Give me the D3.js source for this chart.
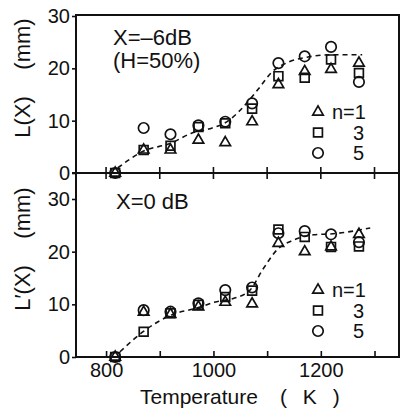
<!DOCTYPE html>
<html>
<head>
<meta charset="utf-8">
<script src="https://cdn.jsdelivr.net/npm/d3@7"></script>
<style>
  body { margin: 0; background: #fff; }
  text { font-family: "Liberation Sans", Arial, sans-serif; fill: #111; }
</style>
</head>
<body>
<figure style="margin:0"></figure>
<script>
// temperatures (K) of the measured points
const temps = [817, 870, 920, 972, 1022, 1072, 1121, 1170, 1219, 1271];

// upper panel, X = -6 dB
const topN1 = [0, 4.4, 4.4, 6.3, 5.8, 9.8, 16.9, 19.4, 19.8, 21.0];
const topN3 = [0, 4.4, 5.2, 8.8, 9.5, 12.3, 18.5, 18.2, 21.7, 19.1];
const topN5 = [0, 8.6, 7.4, 9.1, 9.8, 13.3, 21.0, 22.3, 24.1, 17.4];
const topCurveT = [822, 870, 921, 959, 991, 1028, 1047, 1084, 1109, 1140, 1178, 1221, 1277];
const topCurveV = [1, 4.2, 5.7, 7.6, 8.4, 10, 11.7, 16.1, 19.3, 21.2, 22.2, 22.6, 22.6];

// lower panel, X = 0 dB
const botN1 = [0, 8.5, 8.1, 9.5, 10.4, 10.1, 21.6, 20.0, 20.9, 23.3];
const botN3 = [0, 4.8, 8.3, 9.9, 11.4, 12.6, 24.2, 22.8, 20.9, 21.0];
const botN5 = [0, 8.9, 8.6, 10.2, 12.7, 13.2, 23.5, 23.9, 23.3, 21.8];
const botCurveT = [826, 869, 922, 969, 1006, 1037, 1068, 1093, 1118, 1149, 1186, 1223, 1292];
const botCurveV = [1, 4.8, 8.0, 9.3, 10.5, 11.1, 12.7, 16.8, 20.3, 22.2, 23.2, 23.4, 24.5];

const xTicks = [800, 900, 1000, 1100, 1200, 1300];
const xLabels = [800, 1000, 1200];
const yTicks = [0, 10, 20, 30];
const legendLabels = ["n=1", "3", "5"];

const width = 405, height = 412;
const frameL = 76, frameR = 399, frameT = 15, frameB = 357, frameM = 173;

const svg = d3.select("figure").append("svg")
    .attr("width", width)
    .attr("height", height);

const x = d3.scaleLinear().domain([744, 1345.6]).range([frameL, frameR]);
const yTop = d3.scaleLinear().domain([0, 30]).range([frameM, 16]);
const yBot = d3.scaleLinear().domain([0, 30]).range([frameB, 199]);

const symbols = [
  d3.symbol().type(d3.symbolTriangle).size(48)(),
  d3.symbol().type(d3.symbolSquare).size(78)(),
  d3.symbol().type(d3.symbolCircle).size(86)()
];

// frame
svg.append("rect")
    .attr("x", frameL).attr("y", frameT)
    .attr("width", frameR - frameL).attr("height", frameB - frameT)
    .attr("fill", "none").attr("stroke", "#111").attr("stroke-width", 2);

// shared middle axis: line from the "0" label, ticks crossing both ways
svg.append("line")
    .attr("x1", frameL - 4).attr("x2", frameR)
    .attr("y1", frameM).attr("y2", frameM)
    .attr("stroke", "#111").attr("stroke-width", 2);
svg.append("g").selectAll("line")
  .data(xTicks)
  .join("line")
    .attr("x1", d => x(d)).attr("x2", d => x(d))
    .attr("y1", frameM - 6).attr("y2", frameM + 6)
    .attr("stroke", "#111").attr("stroke-width", 1.6);

// bottom axis, ticks pointing in
const xAxis = d3.axisBottom(x)
    .tickValues(xTicks)
    .tickSize(-6)
    .tickPadding(6)
    .tickFormat(d => xLabels.includes(d) ? d : "");
svg.append("g")
    .attr("transform", `translate(0,${frameB})`)
    .call(xAxis)
    .call(g => g.select(".domain").remove())
    .call(g => g.selectAll("line").attr("stroke", "#111").attr("stroke-width", 1.6))
    .call(g => g.selectAll("text").attr("font-size", 20).attr("fill", "#111")
        .attr("font-family", "Liberation Sans, Arial, sans-serif"));

// y axes
for (const y of [yTop, yBot]) {
  svg.append("g")
      .attr("transform", `translate(${frameL},0)`)
      .call(d3.axisLeft(y).tickValues(yTicks).tickSize(4).tickPadding(2))
      .call(g => g.select(".domain").remove())
      .call(g => g.selectAll("line").attr("stroke", "#111").attr("stroke-width", 1.6))
      .call(g => g.selectAll("text").attr("font-size", 20).attr("fill", "#111")
          .attr("font-family", "Liberation Sans, Arial, sans-serif"));
}

// y labels
const yLabel = (txt, cy) => svg.append("text")
    .attr("transform", `translate(30,${cy}) rotate(-90)`)
    .attr("text-anchor", "middle")
    .attr("font-size", 22)
    .text(txt);
yLabel("(mm)", 44);
yLabel("L(X)", 117);
yLabel("(mm)", 213);
yLabel("L\u2032(X)", 288);

// x label
svg.append("text").attr("x", 140).attr("y", 404).attr("font-size", 21).text("Temperature");
svg.append("text").attr("x", 280).attr("y", 404).attr("font-size", 21)
    .attr("letter-spacing", 5).text("( K )");

// annotations
svg.append("text").attr("x", 113).attr("y", 45).attr("font-size", 22).text("X=\u20136dB");
svg.append("text").attr("x", 113).attr("y", 68).attr("font-size", 22).text("(H=50%)");
svg.append("text").attr("x", 116).attr("y", 209).attr("font-size", 22).text("X=0 dB");

// dashed guide curves
const curve = (ts, vs, y) => svg.append("path")
    .datum(d3.zip(ts, vs))
    .attr("d", d3.line().x(d => x(d[0])).y(d => y(d[1])).curve(d3.curveMonotoneX))
    .attr("fill", "none").attr("stroke", "#111")
    .attr("stroke-width", 1.6).attr("stroke-dasharray", "5,4");
curve(topCurveT, topCurveV, yTop);
curve(botCurveT, botCurveV, yBot);

// markers
const drawSeries = (vals, k, y) => svg.append("g").selectAll("path")
  .data(d3.zip(temps, vals))
  .join("path")
    .attr("d", symbols[k])
    .attr("transform", d => `translate(${x(d[0])},${y(d[1])})`)
    .attr("fill", "none").attr("stroke", "#111").attr("stroke-width", 1.7);
[topN1, topN3, topN5].forEach((s, k) => drawSeries(s, k, yTop));
[botN1, botN3, botN5].forEach((s, k) => drawSeries(s, k, yBot));

// legends
const legend = (y0) => {
  const g = svg.append("g");
  legendLabels.forEach((lab, k) => {
    const cy = y0 + k * 20.5;
    g.append("path").attr("d", symbols[k])
        .attr("transform", `translate(318,${cy})`)
        .attr("fill", "none").attr("stroke", "#111").attr("stroke-width", 1.7);
    g.append("text").attr("x", k === 0 ? 332 : 353).attr("y", cy + 7)
        .attr("font-size", 20).text(lab);
  });
};
legend(112);
legend(290);
</script>
</body>
</html>
